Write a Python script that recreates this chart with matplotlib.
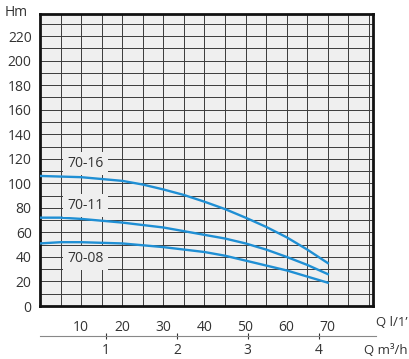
import matplotlib.pyplot as plt
import numpy as np

plt.rcParams['font.family'] = ['Open Sans', 'DejaVu Sans']

q_lmin = [0, 5, 10, 15, 20, 25, 30, 35, 40, 45, 50, 55, 60, 65, 70]
h_7016 = [106, 105.5, 105, 103.5, 102, 99, 95, 90.5, 85, 79, 72, 64.5, 56, 46, 35]
h_7011 = [72, 72, 71, 69.5, 68, 66, 64, 61, 58, 55, 51, 46, 40, 33.5, 26]
h_7008 = [51, 52, 52, 51.5, 51, 49.5, 48, 46, 44, 41, 37, 33, 29, 24, 19]
models = ['70-16', '70-11', '70-08']
label_h = [116, 82, 39]
m3h_ticks = [1, 2, 3, 4]

blue = '#1f8fd4'
txt = '#333333'

fig = plt.figure(figsize=(4.10, 3.59), dpi=100)
ax = fig.add_axes([40 / 410, 1 - 306 / 359, 333 / 410, 292 / 359])
ax.set_facecolor('#efefef')
ax.set_xlim(0, 81)
ax.set_ylim(0, 238)

ax.set_xticks(np.arange(0, 81, 5), minor=True)
ax.set_yticks(np.arange(0, 238, 10), minor=True)
ax.set_xticks(range(10, 71, 10))
ax.set_yticks(range(0, 221, 20))
ax.grid(which='both', color='#3a3a3a', linewidth=0.7)
ax.set_axisbelow(True)
ax.tick_params(which='both', length=0, labelsize=10, colors=txt)
ax.tick_params(axis='x', pad=10)
ax.tick_params(axis='y', pad=6)
for s in ax.spines.values():
    s.set_linewidth(2)
    s.set_color('#111111')

for h in [h_7016, h_7011, h_7008]:
    ax.plot(q_lmin, h, color=blue, linewidth=1.7, zorder=3)

for name, y in zip(models, label_h):
    ax.text(11, y, name, ha='center', va='center', fontsize=10, color=txt,
            bbox=dict(facecolor='#efefef', edgecolor='none', pad=3), zorder=4)

# the chart's m3/h scale is drawn slightly off the exact 16.67 factor
sec = ax.secondary_xaxis(-0.103, functions=(lambda x: (x + 1.2) / 17.24,
                                             lambda x: x * 17.24 - 1.2))
sec.set_xticks(m3h_ticks)
sec.tick_params(length=4, direction='inout', labelsize=10, colors=txt, width=0.8, pad=3)
sec.spines['bottom'].set_color('#888888')
sec.spines['bottom'].set_linewidth(0.8)
sec.spines['bottom'].set_bounds(1.2 / 17.24, 83 / 17.24)

fig.text(5 / 410, 1 - 13 / 359, 'Hm', fontsize=10, color=txt, va='center', ha='left')
fig.text(408 / 410, 1 - 323 / 359, "Q l/1\u2019", fontsize=9.5, color=txt, va='center', ha='right')
fig.text(408 / 410, 1 - 351 / 359, 'Q m\u00b3/h', fontsize=9.5, color=txt, va='center', ha='right')

fig.savefig('out.png', dpi=100)
